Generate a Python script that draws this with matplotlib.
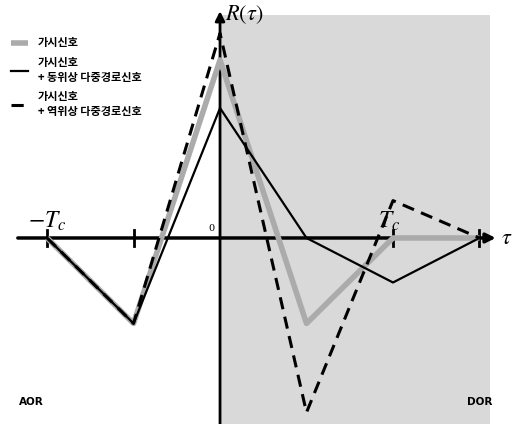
import matplotlib
matplotlib.use("Agg")
import matplotlib.pyplot as plt
from matplotlib.patches import Rectangle

plt.rcParams['font.family'] = ['Noto Sans CJK KR', 'DejaVu Sans']
plt.rcParams['mathtext.fontset'] = 'stix'

# delay in chips (Tc) and normalized correlation values
tau = [-1.0, -0.5, 0.0, 0.5, 1.0, 1.5]
los = [0.0, -0.48, 1.0, -0.48, 0.0, 0.0]
los_inphase = [0.0, -0.48, 0.73, 0.0, -0.25, 0.0]
los_antiphase = [0.0, -0.48, 1.15, -0.98, 0.21, 0.0]

legend_labels = ['가시신호',
                 '가시신호\n+ 동위상 다중경로신호',
                 '가시신호\n+ 역위상 다중경로신호']
ticks = [-1.0, -0.5, 1.0, 1.5]

fig = plt.figure(figsize=(5.12, 4.24), dpi=100)
ax = fig.add_axes([0, 0, 1, 1])
ax.set_xlim(-1.272, 1.688)
ax.set_ylim(-1.045, 1.337)
ax.axis('off')

# shaded DOR region
ax.add_patch(Rectangle((0.0, -1.1), 1.56, 2.35, facecolor='#d9d9d9',
                       edgecolor='none', zorder=0))

# axes with arrows
ax.annotate('', xy=(1.61, 0), xytext=(-1.185, 0),
            arrowprops=dict(arrowstyle='-|>', lw=2.5, color='black',
                            mutation_scale=14), zorder=3)
ax.annotate('', xy=(0, 1.29), xytext=(0, -1.1),
            arrowprops=dict(arrowstyle='-|>', lw=2.0, color='black',
                            mutation_scale=14), zorder=3)
for t in ticks:
    ax.plot([t, t], [-0.045, 0.045], color='black', lw=2, zorder=3)

# correlation curves
ax.plot(tau, los, color='#ababab', lw=4, solid_capstyle='butt', zorder=4,
        label=legend_labels[0])
ax.plot(tau, los_inphase, color='black', lw=1.6, zorder=5,
        label=legend_labels[1])
ax.plot(tau, los_antiphase, color='black', lw=2.2, ls=(0, (4, 2.5)), zorder=6,
        label=legend_labels[2])

# labels
ax.text(0.03, 1.255, r'$R(\tau)$', fontsize=16, ha='left', va='center')
ax.text(1.625, 0.0, r'$\tau$', fontsize=16, ha='left', va='center')
ax.text(-1.0, 0.03, r'$-T_c$', fontsize=17, ha='center', va='bottom')
ax.text(0.98, 0.03, r'$T_c$', fontsize=17, ha='center', va='bottom')
ax.text(-0.03, 0.03, '0', fontsize=7, ha='right', va='bottom',
        family='DejaVu Serif')
ax.text(-1.16, -0.92, 'AOR', fontsize=7.5, fontweight='bold', ha='left',
        va='center', family='DejaVu Sans')
ax.text(1.43, -0.92, 'DOR', fontsize=7.5, fontweight='bold', ha='left',
        va='center', family='DejaVu Sans')

ax.legend(loc='upper left', bbox_to_anchor=(0.005, 0.935), frameon=False,
          prop={'size': 8, 'weight': 'bold'}, handlelength=1.5,
          handletextpad=0.9, labelspacing=0.55, borderaxespad=0.4)

fig.savefig('out.png', dpi=100)
